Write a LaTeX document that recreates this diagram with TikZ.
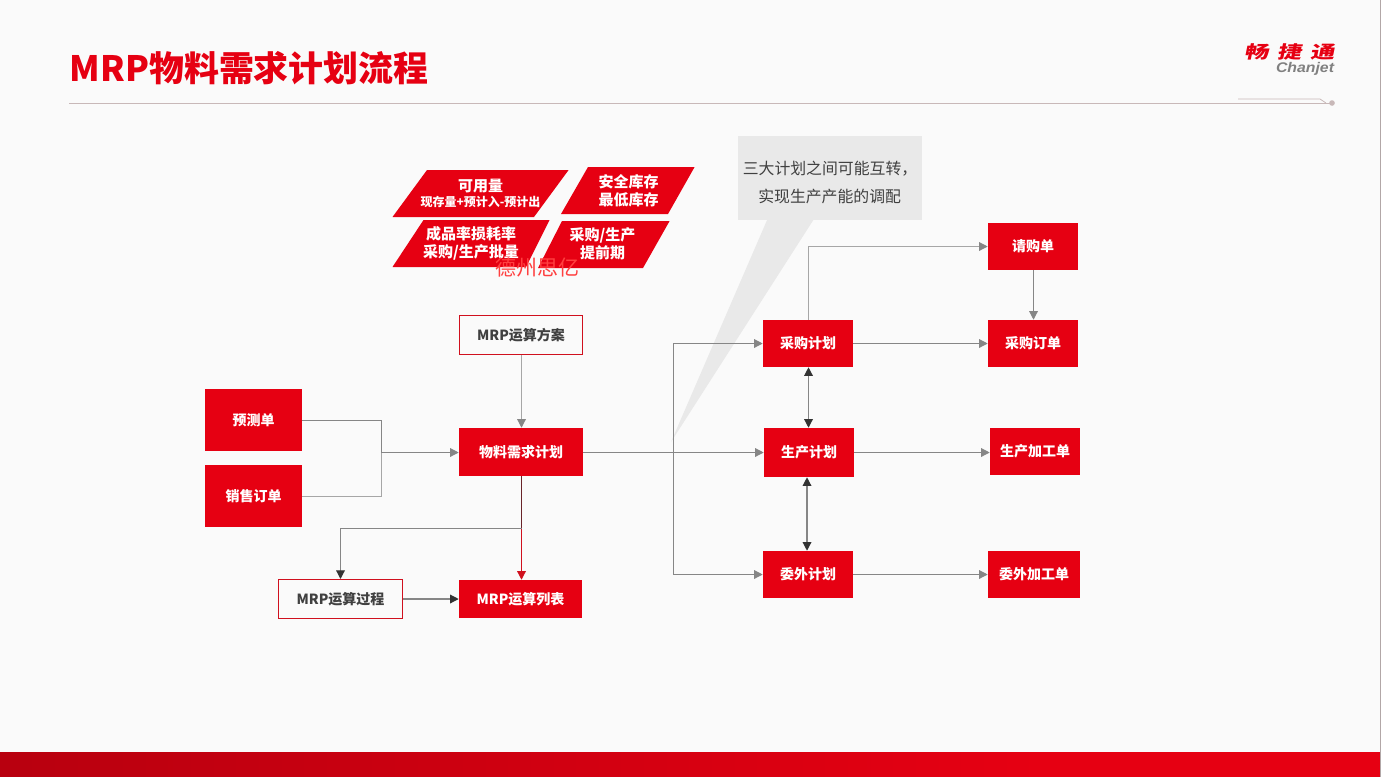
\documentclass[tikz,border=0pt]{standalone}
\usepackage{fontspec}
\setmainfont{Noto Sans CJK SC}
\newfontfamily\logofont{Liberation Sans}
\usetikzlibrary{arrows.meta}
\definecolor{cred}{HTML}{E60012}
\definecolor{cdark}{HTML}{B8000F}
\definecolor{cbg}{HTML}{FAFAFA}
\definecolor{cgrey}{HTML}{868686}
\definecolor{clight}{HTML}{A6A6A6}
\definecolor{ctip}{HTML}{333333}
\definecolor{crule}{HTML}{C8B8B8}
\definecolor{ctxt}{HTML}{404040}
\definecolor{cshade}{HTML}{E9E9E9}
\definecolor{cedge}{HTML}{D0101E}
\newcommand{\fsz}[2]{\fontsize{#1}{#2}\selectfont}
\newcommand{\bx}[7]{\node[#6,minimum width={(#4-#2)*0.75pt},minimum height={(#5-#3)*0.75pt}] (#1) at ({(#2+#4)/2},{(#3+#5)/2}) {#7};}
\tikzset{
  x=0.75pt,y=-0.75pt,
  redbox/.style={fill=cred,text=white,inner sep=0pt,font=\fsz{10.5}{13}\bfseries},
  outbox/.style={draw=cedge,line width=0.75pt,fill=cbg,text=ctxt,inner sep=0pt,font=\fsz{10.5}{13}\bfseries},
  paratext/.style={text=white,inner sep=0pt,align=center,font=\fsz{11.25}{13.8}\bfseries},
  conn/.style={draw=cgrey,line width=0.9pt},
  lightconn/.style={draw=clight,line width=0.9pt},
  arrowg/.style={conn,-{Triangle[length=6.5pt,width=6.5pt,color=cgrey]}},
  arrowl/.style={lightconn,-{Triangle[length=6.5pt,width=6.5pt,color=cgrey]}},
  arrowd/.style={conn,-{Triangle[length=6.5pt,width=6.5pt,color=ctip]}},
  arrowr/.style={draw=cedge,line width=0.9pt,-{Triangle[length=6.5pt,width=6.5pt,color=cedge]}},
  arrowboth/.style={conn,{Triangle[length=6.5pt,width=6.5pt,color=ctip]}-{Triangle[length=6.5pt,width=6.5pt,color=ctip]}},
}
\begin{document}
\begin{tikzpicture}
\useasboundingbox (0,0) rectangle (1382,776);
\fill[cbg] (-2,-2) rectangle (1380,780);
\fill[white] (1380,-2) rectangle (1384,780);
\draw[crule!70!gray,line width=0.4pt] (1380,-2) -- (1380,780);
% bottom bar
\shade[left color=cdark,right color=cred] (-2,752) rectangle (1040,780);
\fill[cred] (1039,752) rectangle (1380,780);
% title
\node[anchor=west,inner sep=0pt,text=cred,font=\fsz{26.2}{30}\bfseries] (title) at (69.5,68.5) {MRP物料需求计划流程};
\coordinate (ruleL) at (69,103);
\coordinate (ruleR) at (1332,103);
\draw[crule,line width=0.75pt] (ruleL) -- (ruleR);
\fill[crule] (ruleR) circle[radius=2.8];
\coordinate (ruleA) at (1238,99);
\coordinate (ruleB) at (1320,99);
\coordinate (ruleC) at (1326,103);
\draw[crule,line width=0.6pt] (ruleA) -- (ruleB) -- (ruleC);
% logo
\node[inner sep=0pt,text=cred,font=\fsz{13}{16}\bfseries,xslant=0.2,xscale=1.4] (logoa) at (1290.5,52) {畅\hspace{4.7pt}捷\hspace{4.7pt}通};
\node[inner sep=0pt,text=gray,font=\logofont\fsz{10.5}{13}\itshape\bfseries,xscale=1.13] (logob) at (1305,68.5) {Chanjet};
% callout
\fill[cshade] (738,136) rectangle (922,220);
\fill[cshade] (767.5,219) -- (814,219) -- (671,442) -- cycle;
\node[anchor=west,inner sep=0pt,text=ctxt,font=\fsz{11.9}{14}] (note1) at (742.5,168.5) {三大计划之间可能互转，};
\node[anchor=west,inner sep=0pt,text=ctxt,font=\fsz{11.9}{14}] (note2) at (758,196.5) {实现生产产能的调配};
% parallelograms
\fill[cred] (392.5,217) -- (427,170) -- (568.6,170) -- (534,217) -- cycle;
\fill[cred] (561,214) -- (588,167) -- (694.6,167) -- (668,214) -- cycle;
\fill[cred] (392.5,267) -- (423.5,220) -- (549.6,220) -- (526,267) -- cycle;
\fill[cred] (538,268) -- (562,221) -- (669.6,221) -- (643,268) -- cycle;
\node[text=white,inner sep=0pt,font=\fsz{11.25}{13}\bfseries] (p1a) at (480.5,186) {可用量};
\node[text=white,inner sep=0pt,font=\fsz{9}{11}\bfseries] (p1b) at (480.5,202) {现存量+预计入-预计出};
\node[paratext] (p2) at (628.5,190.5) {安全库存\\最低库存};
\node[paratext] (p3) at (471,243.5) {成品率损耗率\\采购/生产批量};
\node[paratext] (p4) at (602.5,244) {采购/生产\\提前期};
% boxes
\bx{fc}{205}{389}{302}{451}{redbox}{预测单}
\bx{so}{205}{465}{302}{527}{redbox}{销售订单}
\bx{mrp}{459}{428}{583}{476}{redbox}{物料需求计划}
\bx{plan}{459.5}{315.5}{582.5}{354.5}{outbox}{MRP运算方案}
\bx{proc}{278.5}{579.5}{402.5}{618.5}{outbox}{MRP运算过程}
\bx{list}{459}{580}{582}{618}{redbox}{MRP运算列表}
\bx{pp}{763}{320}{853}{367}{redbox}{采购计划}
\bx{mp}{764}{428}{854}{477}{redbox}{生产计划}
\bx{op}{763}{551}{853}{598}{redbox}{委外计划}
\bx{pr}{988}{223}{1078}{270}{redbox}{请购单}
\bx{po}{988}{320}{1078}{367}{redbox}{采购订单}
\bx{wo}{990}{428}{1080}{475}{redbox}{生产加工单}
\bx{oo}{988}{551}{1080}{598}{redbox}{委外加工单}
% connector helpers
\coordinate (jn) at (381.5,452.5);
\coordinate (fork) at (673.5,452.5);
\coordinate (drop) at (521.5,528.5);
\coordinate (prin) at (808.5,246.5);
% inputs
\draw[conn] ([yshift=-.375pt]fc.east) -| (jn);
\draw[lightconn] ([yshift=-.375pt]so.east) -| (jn);
\draw[arrowg] (jn) -- (jn -| mrp.west);
\draw[arrowl] (drop |- plan.south) -- (drop |- mrp.north);
% outputs of MRP
\draw[arrowg] (mrp.east |- fork) -- (fork) -- (fork -| mp.west);
\draw[arrowg] (fork) |- (pp.west);
\draw[arrowg] (fork) |- (op.west);
\draw[arrowr] (drop |- mrp.south) -- (drop |- list.north);
\draw[draw=ctip!70!cred,line width=0.9pt] (drop |- mrp.south) -- (drop);
\draw[arrowd] (drop) -- (drop -| proc.north) -- (proc.north);
\draw[arrowd] (proc.east) -- (proc.east -| list.west);
% plans
\draw[arrowl] (prin |- pp.north) -- (prin) -- (prin -| pr.west);
\draw[arrowg] ([xshift=.375pt]pr.south) -- ([xshift=.375pt]po.north);
\draw[arrowg] (pp.east) -- (po.west);
\draw[arrowboth] (prin |- pp.south) -- (prin |- mp.north);
\draw[arrowboth] ([xshift=-.75pt]op.north |- mp.south) -- ([xshift=-.75pt]op.north);
\draw[arrowg] (mp.east) -- (mp.east -| wo.west);
\draw[arrowg] (op.east) -- (oo.west);
% watermark
\node[inner sep=0pt,text=red!75!white,font=\fsz{15.75}{18}] (wm) at (537,267) {德州思亿};
\end{tikzpicture}
\end{document}
